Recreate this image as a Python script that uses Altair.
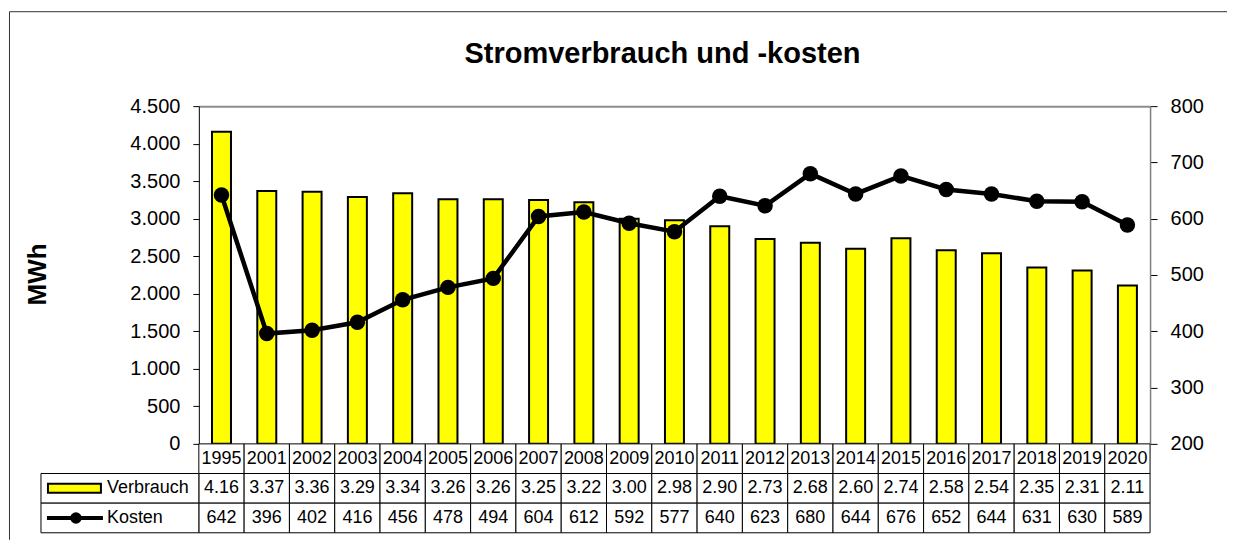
import altair as alt
import pandas as pd

# ---- data ----
years = ["1995", "2001", "2002", "2003", "2004", "2005", "2006", "2007", "2008", "2009",
         "2010", "2011", "2012", "2013", "2014", "2015", "2016", "2017", "2018", "2019", "2020"]
verbrauch = [4.16, 3.37, 3.36, 3.29, 3.34, 3.26, 3.26, 3.25, 3.22, 3.00,
             2.98, 2.90, 2.73, 2.68, 2.60, 2.74, 2.58, 2.54, 2.35, 2.31, 2.11]
kosten = [642, 396, 402, 416, 456, 478, 494, 604, 612, 592,
          577, 640, 623, 680, 644, 676, 652, 644, 631, 630, 589]
row_names = ["Jahr", "Verbrauch", "Kosten"]
legend_rows = ["Verbrauch", "Kosten"]
left_ticks = [0, 500, 1000, 1500, 2000, 2500, 3000, 3500, 4000, 4500]
right_ticks = [200, 300, 400, 500, 600, 700, 800]
title_text = "Stromverbrauch und -kosten"
y_title = "MWh"

FONT = "Liberation Sans"
YELLOW = "#FFFF00"
W, H = 1219, 529          # whole view (frame) size
X0, X1 = 190, 1142        # plot area, horizontal
YT, YB = 95, 433          # plot area, vertical
TB = 522                  # bottom of data table

df = pd.DataFrame({"year": years, "verbrauch": verbrauch, "kosten": kosten})
df["mwh"] = df["verbrauch"] * 1000

table = pd.DataFrame({
    "year": years * 3,
    "row": ["Jahr"] * len(years) + ["Verbrauch"] * len(years) + ["Kosten"] * len(years),
    "label": years + [f"{v:.2f}" for v in verbrauch] + [str(k) for k in kosten],
})
legend_df = pd.DataFrame({"row": legend_rows})
one = pd.DataFrame({"k": [0]})

# ---- scales / axes ----
x_axis = alt.Axis(orient="top", offset=-YT, labels=False, ticks=False, grid=False,
                  domainColor="#8c8c8c", domainWidth=2, title=None)
x_enc = alt.X("year:N", sort=years, axis=x_axis,
              scale=alt.Scale(domain=years, range=[X0, X1], paddingInner=0, paddingOuter=0))

left_axis = alt.Axis(orient="left", offset=-X0, values=left_ticks,
                     labelExpr="replace(format(datum.value, ','), ',', '.')",
                     labelFont=FONT, labelFontSize=20, labelColor="black", labelPadding=13,
                     tickSize=6, tickColor="black", domainColor="black", grid=False,
                     title=y_title, titleFont=FONT, titleFontSize=26, titleFontWeight="bold",
                     titleColor="black", titleAngle=270, titleX=-161, titleY=263,
                     titleAlign="center", titleBaseline="middle")
right_axis = alt.Axis(orient="right", offset=-(W - X1), values=right_ticks,
                      labelFont=FONT, labelFontSize=20, labelColor="black", labelPadding=13,
                      tickSize=7, tickColor="black", domainColor="#7f7f7f", domainWidth=1.5,
                      grid=False, title=None)

y_bar = alt.Y("mwh:Q", axis=left_axis,
              scale=alt.Scale(domain=[0, 4500], range=[YB, YT], nice=False, zero=True))
y_cost = alt.Y("kosten:Q", axis=right_axis,
               scale=alt.Scale(domain=[200, 800], range=[YB, YT], nice=False, zero=False))
y_tab = alt.Y("row:N", sort=row_names, axis=None,
              scale=alt.Scale(domain=row_names, range=[YB, TB], paddingInner=0, paddingOuter=0))

# ---- main chart ----
bars = alt.Chart(df).mark_bar(size=19, fill=YELLOW, stroke="black", strokeWidth=2).encode(
    x=x_enc, y=y_bar)

line = alt.Chart(df).mark_line(color="black", strokeWidth=4.5).encode(x=x_enc, y=y_cost)
pts = alt.Chart(df).mark_circle(size=240, color="black", opacity=1).encode(x=x_enc, y=y_cost)
cost = alt.layer(line, pts)

# ---- data table ----
cells = alt.Chart(table).mark_rect(fill="white", stroke="black", strokeWidth=1).encode(
    x=x_enc, y=y_tab)
texts = alt.Chart(table).mark_text(font=FONT, fontSize=18, color="black").encode(
    x=x_enc, y=y_tab, text="label:N")
leg_cells = alt.Chart(legend_df).mark_rect(fill="white", stroke="black", strokeWidth=1).encode(
    x=alt.value(32), x2=alt.value(X0), y=y_tab)
leg_text = alt.Chart(legend_df).mark_text(font=FONT, fontSize=18, color="black", align="left").encode(
    x=alt.value(98), y=y_tab, text="row:N")
sym_v = alt.Chart(legend_df).transform_filter("datum.row == 'Verbrauch'").mark_point(
    shape="M-1,-0.17H1V0.17H-1Z", size=2809, filled=True, fill=YELLOW, stroke="black",
    strokeWidth=2, opacity=1).encode(x=alt.value(65.5), y=y_tab)
sym_k_line = alt.Chart(legend_df).transform_filter("datum.row == 'Kosten'").mark_point(
    shape="M-1,0H1", size=3136, filled=False, stroke="black", strokeWidth=4, opacity=1).encode(
    x=alt.value(66), y=y_tab)
sym_k_dot = alt.Chart(legend_df).transform_filter("datum.row == 'Kosten'").mark_circle(
    size=133, color="black", opacity=1).encode(x=alt.value(67), y=y_tab)
tab = alt.layer(cells, texts, leg_cells, leg_text, sym_v, sym_k_line, sym_k_dot)

# ---- frame and title ----
top_rule = alt.Chart(one).mark_rule(color="#333333", strokeWidth=1).encode(
    x=alt.value(0.5), x2=alt.value(W), y=alt.value(0.5))
left_rule = alt.Chart(one).mark_rule(color="#333333", strokeWidth=1).encode(
    x=alt.value(0.5), y=alt.value(0.5), y2=alt.value(H))
title_mark = alt.Chart(one).mark_text(text=title_text, font=FONT, fontSize=29, fontWeight="bold",
                                      color="black", align="center", baseline="alphabetic").encode(
    x=alt.value(654), y=alt.value(52))

chart = alt.layer(bars, cost, tab, top_rule, left_rule, title_mark).resolve_scale(
    y="independent").properties(
    width=W, height=H, padding={"left": 1, "top": 3, "right": 0, "bottom": 0}
).configure(font=FONT, view=alt.ViewConfig(strokeWidth=0, stroke="transparent"))

chart.save("out.html", embed_options={"renderer": "svg", "actions": False})
